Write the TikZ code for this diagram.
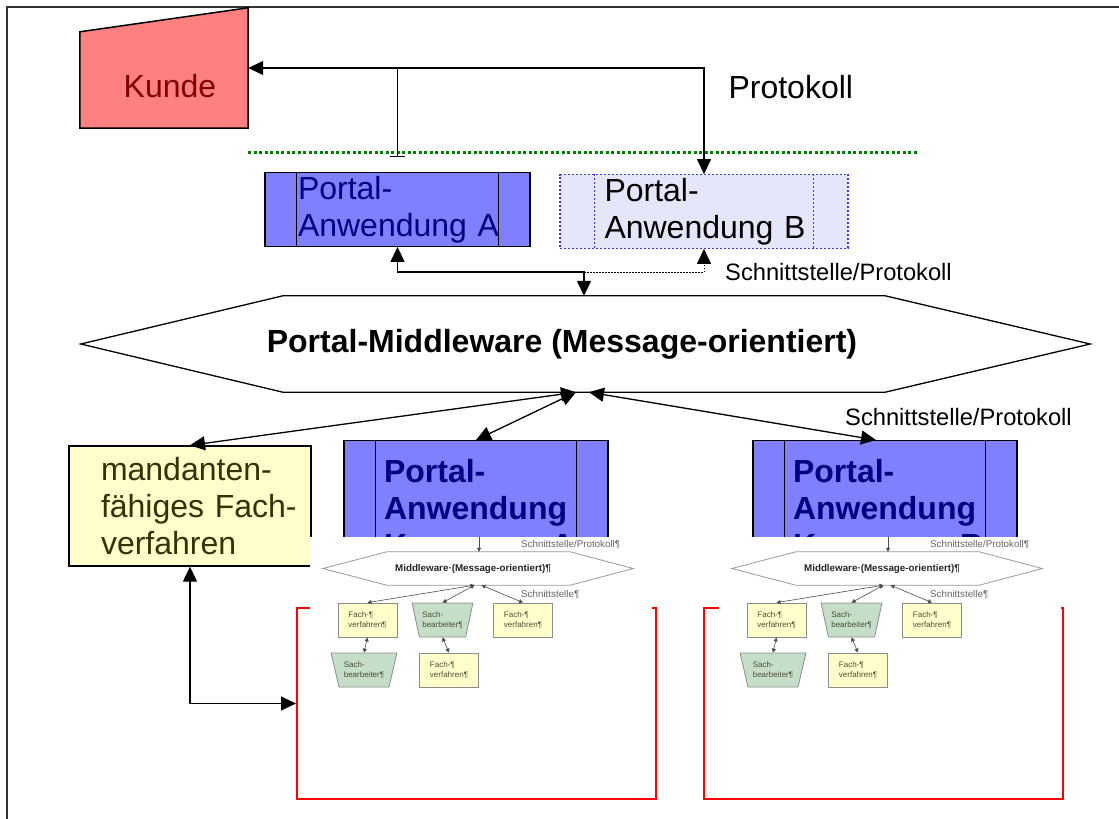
\documentclass[tikz,border=0pt]{standalone}
\usepackage{fontspec}
\setmainfont{Liberation Sans}
\usetikzlibrary{positioning}
\usetikzlibrary{arrows.meta}
\usetikzlibrary{shapes.geometric}

\definecolor{kundefill}{HTML}{FF8080}
\definecolor{kundetext}{HTML}{800000}
\definecolor{appblue}{HTML}{8080FF}
\definecolor{appnavy}{HTML}{000080}
\definecolor{applight}{HTML}{E6E6FA}
\definecolor{dotblue}{HTML}{3333FF}
\definecolor{fachfill}{HTML}{FFFFCC}
\definecolor{fachtext}{HTML}{333300}
\definecolor{sachfill}{HTML}{C4DEC8}
\definecolor{minitext}{HTML}{4D4D33}
\definecolor{linegreen}{HTML}{008000}

\begin{document}
\begin{tikzpicture}[x=1pt, y=-1pt,
                    >={Triangle[length=15pt,width=14pt]},
                    bigtext/.style={font=\fontsize{32}{37}\selectfont},
                    labeltext/.style={font=\fontsize{23.7}{28}\selectfont, anchor=west, inner sep=0pt},
                    conn/.style={line width=1.3pt},
                    kundenode/.style={rectangle, minimum width=168pt, minimum height=120pt, inner sep=0pt},
                    appnode/.style={rectangle, draw, line width=1.3pt, fill=appblue, text=appnavy, bigtext, align=left, text width=199pt, inner xsep=33pt, minimum height=73pt},
                    appnode_dotted/.style={rectangle, draw=dotblue, dash pattern=on 2pt off 2pt, line width=1.3pt, fill=applight, text=black, bigtext, align=left, text width=199pt, inner xsep=44.5pt, minimum height=73pt},
                    appnode_bold/.style={rectangle, draw, line width=1.3pt, fill=appblue, text=appnavy, font=\fontsize{32}{37}\selectfont\bfseries, align=left, text width=184pt, inner xsep=40pt, inner ysep=19pt, anchor=north},
                    fachnode/.style={rectangle, draw, line width=1.3pt, fill=fachfill, text=fachtext, bigtext, align=left, text width=178pt, inner xsep=32pt, inner ysep=0pt, minimum height=120pt},
                    mwnode/.style={rectangle, minimum width=602pt, minimum height=96pt, inner sep=0pt},
                    redbox/.style={rectangle, draw=red, line width=2pt, minimum width=359pt, minimum height=191pt},
                    minihex/.style={rectangle, minimum width=183pt, minimum height=33pt, inner sep=0pt},
                    minishape/.style={draw=black!40, line width=0.8pt, fill=white},
                    minifach/.style={rectangle, draw=black!45, line width=0.8pt, fill=fachfill, text=minitext, font=\fontsize{8}{9.6}\selectfont, align=left, minimum width=59pt, minimum height=34pt},
                    minisach/.style={trapezium, trapezium angle=70, shape border rotate=180, trapezium stretches=true, draw=black!45, line width=0.8pt, fill=sachfill, text=minitext, font=\fontsize{8}{9.6}\selectfont, align=left, minimum width=61pt, minimum height=34pt, inner sep=1pt},
                    minilabel/.style={font=\fontsize{9.8}{11}\selectfont, text=black!60, anchor=west, inner sep=0pt},
                    miniconn/.style={line width=0.6pt, draw=black!70},
                   ]
    \useasboundingbox (0,0) rectangle (1119,819);
    %Frame and separator
    \draw[line width=1.5pt, black!80] (7,819) -- (7,7) -- (1119,7);
    \draw[linegreen, line width=3pt, dash pattern=on 3pt off 2.5pt] (248,152) -- (917,152);

    %Nodes
    \node[kundenode]          (kunde)      at (164,68)   {};
    \draw[line width=1.5pt, fill=kundefill] (kunde.south west) -- ([yshift=-24pt]kunde.north west) -- (kunde.north east) -- (kunde.south east) -- cycle;
    \node[bigtext, text=kundetext] (kundelabel) at (170,86) {Kunde};
    \node[bigtext, anchor=west] (protokoll) at (725,87) {Protokoll};

    \node[appnode]            (pa)         at (397.5,209.5) {Portal-\\Anwendung~A};
    \node[appnode_dotted]     (pb)         at (704,211.5)   {Portal-\\Anwendung~B};
    \node[labeltext]          (schnitt1)   at (725,272)     {Schnittstelle/Protokoll};

    \node[mwnode]             (mw)         at (584,344)  {};
    \draw[line width=1.3pt, fill=white] (mw.north west) -- ([xshift=-202pt]mw.west) -- (mw.south west) -- (mw.south east) -- ([xshift=205pt]mw.east) -- (mw.north east) -- cycle;
    \node[font=\fontsize{32}{37}\selectfont\bfseries] (mwlabel) at ([xshift=-22pt]mw.center) {Portal-Middleware (Message-orientiert)};
    \node[labeltext]          (schnitt2)   at (845,417)  {Schnittstelle/Protokoll};

    \node[fachnode]           (mf)         at (190,506)  {mandanten-\\\mbox{fähiges Fach-}\\verfahren};
    \node[appnode_bold]       (pc)         at (476,440)  {Portal-\\Anwendung\\Kommune~A};
    \node[appnode_bold]       (pd)         at (885,440)  {Portal-\\Anwendung\\Kommune~B};

    \node[redbox]             (redl)       at (476.5,703.5) {};
    \node[redbox]             (redr)       at (883.5,703.5) {};

    %inner lines of the application boxes
    \foreach \n in {pa,pc,pd}
        \draw[line width=1.3pt] ([xshift=32pt]\n.north west) -- ([xshift=32pt]\n.south west)
                                ([xshift=-32pt]\n.north east) -- ([xshift=-32pt]\n.south east);
    \draw[dotblue, line width=1.3pt, dash pattern=on 2pt off 2pt] ([xshift=35pt]pb.north west) -- ([xshift=35pt]pb.south west)
                                ([xshift=-35pt]pb.north east) -- ([xshift=-35pt]pb.south east);

    %Lines
    \coordinate (ab) at (mw.north |- schnitt1.west);
    \draw[conn, <->] (kunde.east) -| (pb.north);
    \draw[conn, -{Bar[width=15pt]}] (pa.north |- kunde.east) -- ([yshift=15pt]pa.north);
    \draw[conn, <->] (pa.south) |- (ab) -- (mw.north);
    \draw[line width=1pt, dash pattern=on 1.5pt off 1.5pt, ->] (ab) -| (pb.south);
    \draw[conn, <->] ([xshift=-8pt]mw.south) -- (mf.north);
    \draw[conn, <->] ([xshift=-8pt]mw.south) -- (pc.north);
    \draw[conn, <->] ([xshift=5pt]mw.south) -- ([xshift=-9pt]pd.north);
    \draw[conn, <->] (mf.south) |- (redl.west);

    %embedded small pictures
    \foreach \dx/\nm in {0/l,409/r}{
    \begin{scope}[xshift=\dx pt, >={Triangle[length=4pt,width=4pt]}]
        \fill[white] (310,537) rectangle (652,700);
        \coordinate (in\nm) at (479,537);
        \node[minihex]  (hex\nm) at (478.5,568.5) {};
        \draw[minishape] (hex\nm.north west) -- ([xshift=-64pt]hex\nm.west) -- (hex\nm.south west) -- (hex\nm.south east) -- ([xshift=63pt]hex\nm.east) -- (hex\nm.north east) -- cycle;
        \node[font=\fontsize{9.8}{11}\selectfont\bfseries, text=black!85] (hexlabel\nm) at (473,569) {Middleware·(Message-orientiert)¶};
        \node[minilabel] (sp\nm) at (521,545) {Schnittstelle/Protokoll¶};
        \node[minilabel] (s\nm)  at (521,595) {Schnittstelle¶};
        \node[minifach]  (fa\nm) at (367.5,620) {Fach-¶\\verfahren¶};
        \node[minisach]  (sa\nm) at (442.5,620) {Sach-\\bearbeiter¶};
        \node[minifach]  (fb\nm) at (523,620)   {Fach-¶\\verfahren¶};
        \node[minisach, minimum width=66pt] (sb\nm) at (364,670) {Sach-\\bearbeiter¶};
        \node[minifach]  (fc\nm) at (449,670)   {Fach-¶\\verfahren¶};
        \draw[miniconn, ->]  (in\nm) -- (in\nm |- hex\nm.north);
        \draw[miniconn, <->] ([xshift=-4pt]hex\nm.south) -- (fa\nm.north);
        \draw[miniconn, <->] ([xshift=-4pt]hex\nm.south) -- (sa\nm.north);
        \draw[miniconn, <->] ([xshift=3pt]hex\nm.south) -- (fb\nm.north);
        \draw[miniconn, <->] (fa\nm.south) -- (sb\nm.north);
        \draw[miniconn, <->] (sa\nm.south) -- (fc\nm.north);
    \end{scope}
    }
\end{tikzpicture}
\end{document}
